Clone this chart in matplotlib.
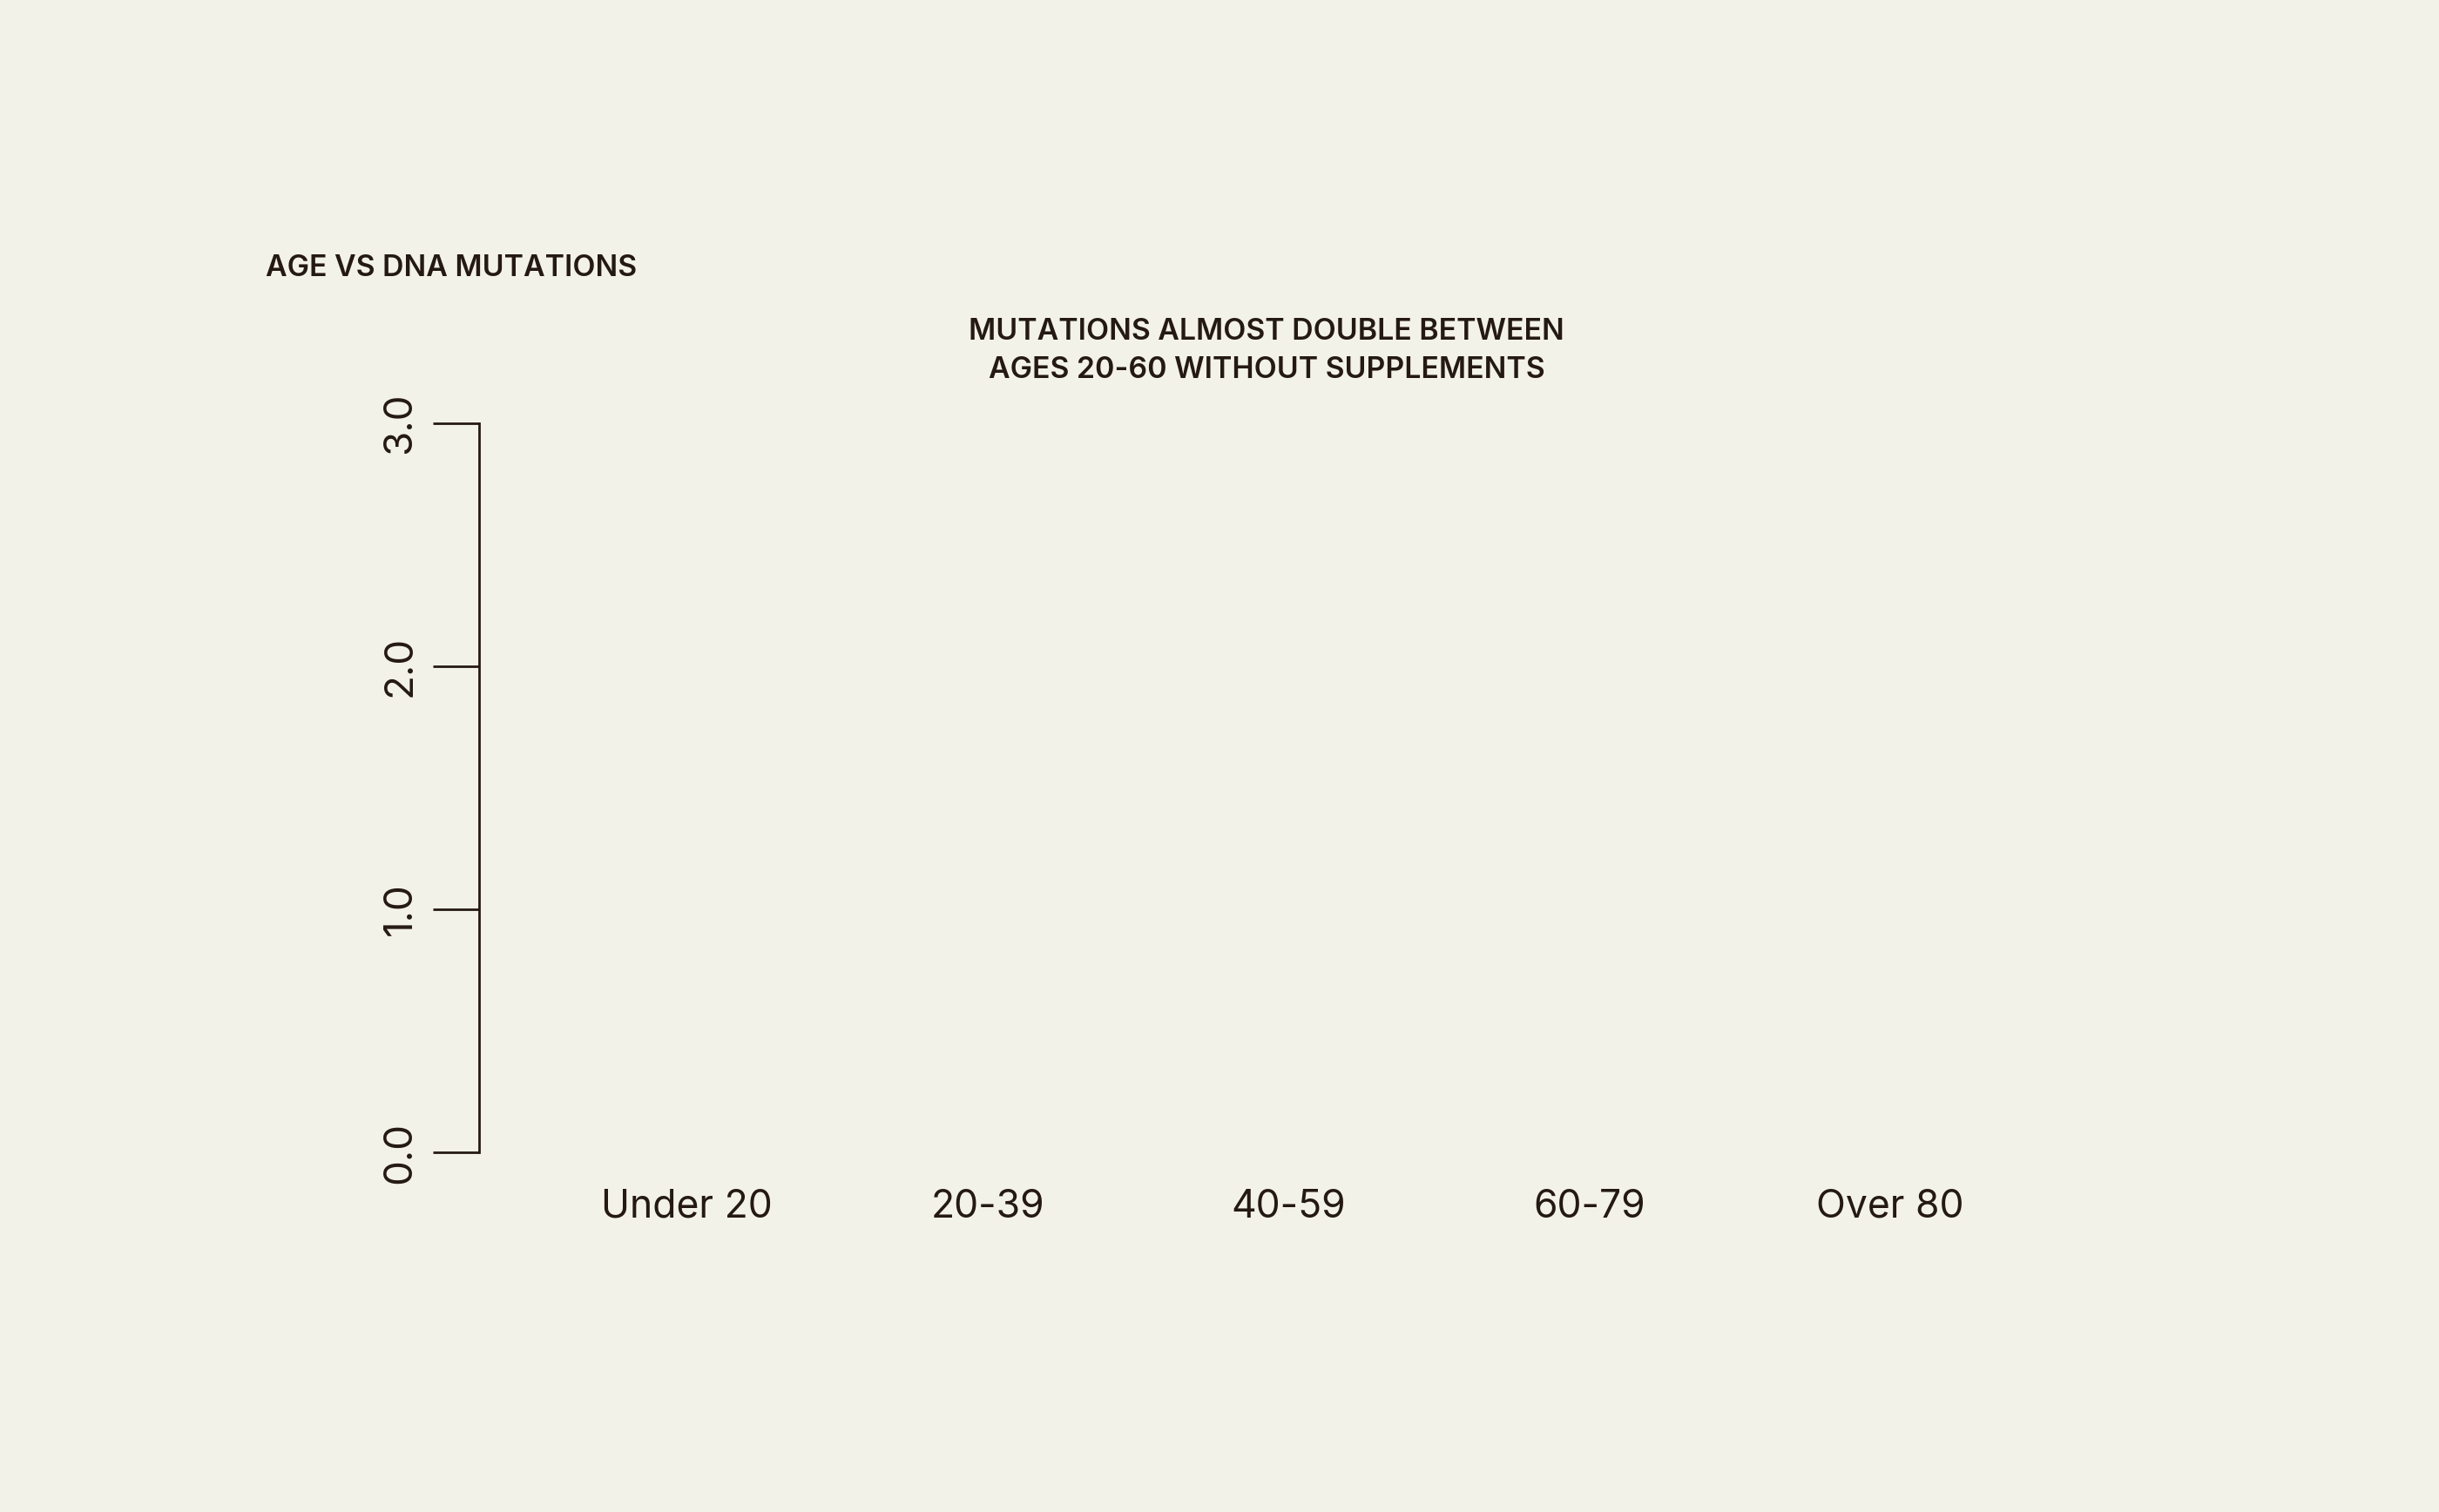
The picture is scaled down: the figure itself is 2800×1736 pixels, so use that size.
import matplotlib.pyplot as plt
import numpy as np

plt.rcParams['font.family'] = ['Inter', 'DejaVu Sans']

# chart data (the reference shows no bars, only the frame)
age_groups = ['Under 20', '20-39', '40-59', '60-79', 'Over 80']
y_ticks = [0.0, 1.0, 2.0, 3.0]
title = 'AGE VS DNA MUTATIONS'
note = 'MUTATIONS ALMOST DOUBLE BETWEEN\nAGES 20-60 WITHOUT SUPPLEMENTS'

bg = '#f3f2e9'
ink = '#241a12'

fig = plt.figure(figsize=(14, 8.68), dpi=200, facecolor=bg)
ax = fig.add_axes([0.1964, 0.2379, 0.6636, 0.4823], facecolor=bg)

x = np.arange(len(age_groups))
ax.set_xlim(-0.69, len(age_groups) - 1 + 0.69)
ax.set_ylim(y_ticks[0], y_ticks[-1])

ax.set_xticks(x)
ax.set_xticklabels(age_groups, fontsize=16, color=ink)
ax.set_yticks(y_ticks)
ax.set_yticklabels([f'{t:.1f}' for t in y_ticks], fontsize=16.5, color=ink,
                   rotation=90, va='center')

ax.tick_params(axis='x', length=0, pad=15)
ax.tick_params(axis='y', length=19, width=1.0, color=ink, pad=6)

for side in ['top', 'right', 'bottom']:
    ax.spines[side].set_visible(False)
ax.spines['left'].set_color(ink)
ax.spines['left'].set_linewidth(1.0)

fig.text(305 / 2800, 1 - 308 / 1736, title, fontsize=12.2, fontweight='semibold',
         color=ink, ha='left', va='center')
fig.text(1454 / 2800, 1 - 403 / 1736, note, fontsize=12.2, fontweight='semibold',
         color=ink, ha='center', va='center', linespacing=1.5)

fig.savefig('out.png', dpi=200, facecolor=bg)
